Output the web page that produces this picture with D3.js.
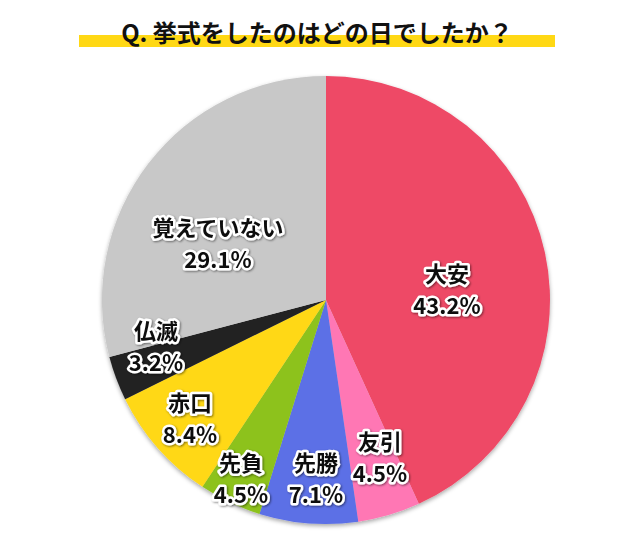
<!DOCTYPE html><html><head><meta charset="utf-8"><script src="https://d3js.org/d3.v7.min.js"></script>
<style>body{margin:0;background:#fff}</style></head><body><script>
const categories=["大安","友引","先勝","先負","赤口","仏滅","覚えていない"];
const values=[43.2,4.5,7.1,4.5,8.4,3.2,29.1];
const colors=["#EE4866","#FF77B4","#5B6FE6","#8DC21F","#FFD814","#222222","#C8C8C8"];
const labelPos=[[447,286],[380,454],[316,475],[241,475],[190,415],[156,343],[218,240]];
const W=640,H=550,cx=326,cy=300,R=224;
const svg=d3.select("body").append("svg").attr("width",W).attr("height",H);
const defs=svg.append("defs");
const f=defs.append("filter").attr("id","sh").attr("x","-10%").attr("y","-10%").attr("width","120%").attr("height","120%");
f.append("feDropShadow").attr("dx",0).attr("dy",2).attr("stdDeviation",2).attr("flood-color","#000").attr("flood-opacity",0.35);
const f2=defs.append("filter").attr("id","ts");
f2.append("feDropShadow").attr("dx",1).attr("dy",1).attr("stdDeviation",1).attr("flood-color","#000").attr("flood-opacity",0.5);
svg.append("rect").attr("x",79).attr("y",35).attr("width",476).attr("height",12).attr("fill","#FFD814");
svg.append("text").attr("x",317).attr("y",42).attr("text-anchor","middle").attr("font-family","Noto Sans CJK JP").attr("font-weight",700).attr("font-size",24).attr("fill","#111").text("Q. 挙式をしたのはどの日でしたか？");
const pie=d3.pie().sort(null).value(d=>d)(values);
const arc=d3.arc().innerRadius(0).outerRadius(R);
const g=svg.append("g").attr("transform",`translate(${cx},${cy})`).attr("filter","url(#sh)");
g.selectAll("path").data(pie).join("path").attr("d",arc).attr("fill",(d,i)=>colors[i]);
const lg=svg.append("g").attr("font-family","Noto Sans CJK JP").attr("font-weight",700).attr("font-size",22).attr("text-anchor","middle");
categories.forEach((c,i)=>{
  const [x,y]=labelPos[i];
  const t=lg.append("g").attr("filter","url(#ts)");
  [[c,y-4],[values[i].toFixed(1)+"%",y+28]].forEach(([s,yy])=>{
    t.append("text").attr("x",x).attr("y",yy).attr("stroke","#fff").attr("stroke-width",5).attr("stroke-linejoin","round").attr("fill","#fff").text(s);
    t.append("text").attr("x",x).attr("y",yy).attr("fill","#111").text(s);
  });
});
</script></body></html>
